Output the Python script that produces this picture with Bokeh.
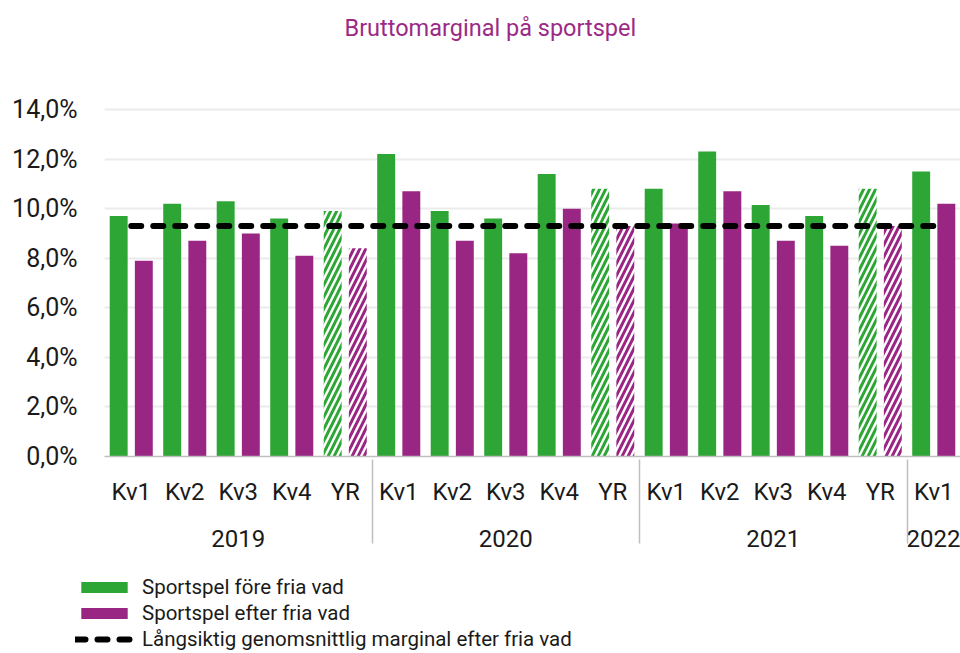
from bokeh.plotting import figure
from bokeh.layouts import column, row
from bokeh.models import FactorRange, ColumnDataSource, FixedTicker, Legend, LegendItem, Title
from bokeh.transform import dodge
from bokeh.embed import file_html
from bokeh.resources import INLINE

# ---------------- data ----------------
years = ["2019", "2019", "2019", "2019", "2019",
         "2020", "2020", "2020", "2020", "2020",
         "2021", "2021", "2021", "2021", "2021",
         "2022"]
quarters = ["Kv1", "Kv2", "Kv3", "Kv4", "YR",
            "Kv1", "Kv2", "Kv3", "Kv4", "YR",
            "Kv1", "Kv2", "Kv3", "Kv4", "YR",
            "Kv1"]
fore_fria_vad = [9.7, 10.2, 10.3, 9.6, 9.9,
                 12.2, 9.9, 9.6, 11.4, 10.8,
                 10.8, 12.3, 10.15, 9.7, 10.8,
                 11.5]
efter_fria_vad = [7.9, 8.7, 9.0, 8.1, 8.4,
                  10.7, 8.7, 8.2, 10.0, 9.3,
                  9.4, 10.7, 8.7, 8.5, 9.3,
                  10.2]
langsiktig_snitt = [9.3, 9.3, 9.3, 9.3, 9.3,
                    9.3, 9.3, 9.3, 9.3, 9.3,
                    9.3, 9.3, 9.3, 9.3, 9.3,
                    9.3]
y_ticks = [0, 2, 4, 6, 8, 10, 12, 14]
y_tick_labels = ["0,0%", "2,0%", "4,0%", "6,0%", "8,0%", "10,0%", "12,0%", "14,0%"]
title_text = "Bruttomarginal på sportspel"
series_names = ["Sportspel före fria vad",
                "Sportspel efter fria vad",
                "Långsiktig genomsnittlig marginal efter fria vad"]

# ---------------- style ----------------
GREEN = "#2EA636"
PURPLE = "#9A2684"
TITLE_COLOR = "#9B2A86"
TEXT = "#1A1A1A"
AXIS_GREY = "#BFBFBF"
FONT = "Roboto"

factors = list(zip(years, quarters))
is_year = [q == "YR" for q in quarters]
src = ColumnDataSource(data=dict(
    x=factors,
    fore=fore_fria_vad,
    efter=efter_fria_vad,
    avg=langsiktig_snitt,
    fore_fill=["white" if y else GREEN for y in is_year],
    efter_fill=["white" if y else PURPLE for y in is_year],
    hatch=["/" if y else " " for y in is_year],
))

p = figure(
    x_range=FactorRange(factors=factors, group_padding=0, range_padding=0),
    y_range=(0, 16.42),
    frame_width=856, frame_height=407,
    output_backend="svg", toolbar_location=None,
    min_border_left=104, min_border_right=0, min_border_top=49, min_border_bottom=109,
)
p.outline_line_color = None
p.background_fill_color = "white"

p.title = Title(text=title_text, align="left", offset=240, text_font=FONT,
                text_font_size="23.5px", text_font_style="normal",
                text_color=TITLE_COLOR, standoff=16)

BAR_STYLE = dict(width=0.335, line_color=None, hatch_pattern="hatch",
                 hatch_weight=3, hatch_scale=12)
p.vbar(x=dodge("x", -0.235, range=p.x_range), top="fore", source=src,
       fill_color="fore_fill", hatch_color=GREEN, **BAR_STYLE)
p.vbar(x=dodge("x", 0.235, range=p.x_range), top="efter", source=src,
       fill_color="efter_fill", hatch_color=PURPLE, **BAR_STYLE)
LINE_STYLE = dict(line_color="black", line_width=6, line_dash="10 12", line_cap="round")
p.line(x="x", y="avg", source=src, **LINE_STYLE)

# y axis
p.yaxis.ticker = FixedTicker(ticks=y_ticks)
p.yaxis.major_label_overrides = dict(zip(y_ticks, y_tick_labels))
p.yaxis.axis_line_color = None
p.yaxis.major_tick_line_color = None
p.yaxis.minor_tick_line_color = None
p.yaxis.major_tick_out = 0
p.yaxis.major_label_standoff = 27
p.yaxis.major_label_text_font = FONT
p.yaxis.major_label_text_font_size = "25px"
p.yaxis.major_label_text_color = TEXT
p.ygrid.grid_line_color = "#EBEBEB"
p.ygrid.grid_line_width = 2
p.xgrid.visible = False

# x axis
xa = p.xaxis[0]
xa.axis_line_color = AXIS_GREY
xa.axis_line_width = 1.5
xa.major_tick_line_color = None
xa.minor_tick_line_color = None
xa.major_tick_out = 0
xa.major_label_standoff = 21
xa.major_label_text_font = FONT
xa.major_label_text_font_size = "24px"
xa.major_label_text_color = TEXT
xa.group_text_font = FONT
xa.group_text_font_size = "24px"
xa.group_text_font_style = "normal"
xa.group_text_color = TEXT
xa.separator_line_color = AXIS_GREY
xa.separator_line_width = 1.5

# ---------------- legend strip below the chart ----------------
lf = figure(width=960, height=88, x_range=(0, 1), y_range=(0, 1),
            output_backend="svg", toolbar_location=None,
            x_axis_location=None, y_axis_location=None,
            min_border_left=0, min_border_right=0, min_border_top=0, min_border_bottom=0)
lf.outline_line_color = None
lf.grid.visible = False
# swatch renderers (placed outside the visible range; only their legend glyphs show)
g_fore = lf.vbar(x=[-10], top=[-10], width=0.3, fill_color=GREEN, line_color=None)
g_efter = lf.vbar(x=[-10], top=[-10], width=0.3, fill_color=PURPLE, line_color=None)
g_avg = lf.line(x=[-10, -9], y=[-10, -10], **LINE_STYLE)

legend = Legend(
    items=[LegendItem(label=series_names[0], renderers=[g_fore]),
           LegendItem(label=series_names[1], renderers=[g_efter]),
           LegendItem(label=series_names[2], renderers=[g_avg])],
    location=(75, 2), orientation="vertical",
    glyph_width=58, glyph_height=14, label_standoff=9,
    label_text_font=FONT, label_text_font_size="20.5px", label_text_color=TEXT,
    label_height=24, spacing=2, padding=0, margin=0,
    border_line_color=None, background_fill_alpha=0,
)
lf.add_layout(legend)

layout = column(p, row(lf), spacing=0)
open("out.html", "w").write(file_html(layout, INLINE))
